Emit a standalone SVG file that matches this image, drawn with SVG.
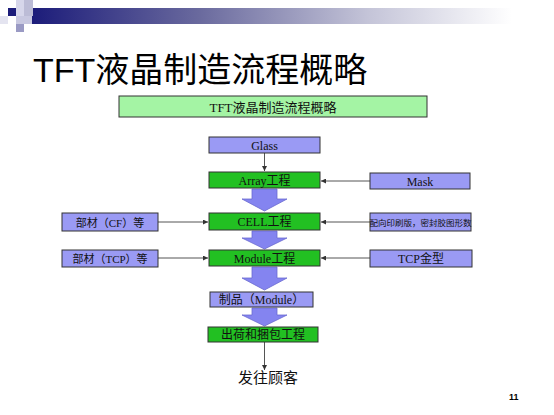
<svg xmlns="http://www.w3.org/2000/svg" width="554" height="415" viewBox="0 0 554 415">
<defs>
<linearGradient id="hdr" x1="0" y1="0" x2="1" y2="0">
<stop offset="0" stop-color="#1c1c7a"/>
<stop offset="0.35" stop-color="#6a6a9e"/>
<stop offset="0.7" stop-color="#c4c4d8"/>
<stop offset="1" stop-color="#ffffff"/>
</linearGradient>
<marker id="ah" viewBox="0 0 6 6" refX="6" refY="3" markerWidth="5" markerHeight="5" orient="auto">
<path d="M0,0 L6,3 L0,6 z" fill="#333"/>
</marker>
<style>
.lav{fill:#9a9af4;stroke:#333;stroke-width:1}
.grn{fill:#22c022;stroke:#333;stroke-width:1}
.ttl{fill:#a4f4a4;stroke:#333;stroke-width:1}
.t{font-family:"Liberation Serif","Noto Sans CJK SC",serif;font-size:12px;fill:#111;text-anchor:middle}
.c{stroke:#555;stroke-width:1;fill:none;marker-end:url(#ah)}
.blk{fill:#8484f0;stroke:#6a6ad0;stroke-width:0.8}
</style>
</defs>
<rect width="554" height="415" fill="#ffffff"/>
<g id="decor">
<rect x="32" y="8" width="480" height="16" fill="url(#hdr)"/>
<rect x="16" y="0" width="16" height="16" fill="#d6d6ea"/>
<rect x="24" y="0" width="9" height="16" fill="#bcbcd6"/>
<rect x="8" y="8" width="8" height="8" fill="#1c1c7a"/>
<rect x="0" y="16" width="8" height="8" fill="#e4e4f0"/>
<rect x="16" y="16" width="8" height="16" fill="#9a9ac4"/>
<rect x="16" y="16" width="16" height="8" fill="#c8c8e0"/>
</g>
<text x="33" y="82" font-family="Liberation Sans,'Noto Sans CJK SC',sans-serif" font-size="34" fill="#000">TFT液晶制造流程概略</text>
<g id="connectors">
<line class="c" x1="264.5" y1="153" x2="264.5" y2="171"/>
<line class="c" x1="370" y1="181" x2="321" y2="181"/>
<line class="c" x1="158" y1="222" x2="208" y2="222"/>
<line class="c" x1="370" y1="222" x2="321" y2="222"/>
<line class="c" x1="158" y1="258" x2="208" y2="258"/>
<line class="c" x1="370" y1="258" x2="321" y2="258"/>
<line class="c" x1="264.5" y1="342" x2="264.5" y2="370"/>
<path class="blk" d="M252,189 H277 V199 H287 L264.5,211 L242,199 H252 Z"/>
<path class="blk" d="M252,231 H277 V238 H287 L264.5,249 L242,238 H252 Z"/>
<path class="blk" d="M252,267 H277 V278 H287 L264.5,290 L242,278 H252 Z"/>
<path class="blk" d="M252,308 H277 V315 H287 L264.5,326 L242,315 H252 Z"/>
</g>
<g id="title-box"><rect class="ttl" x="119" y="96" width="308" height="21"/><text class="t" x="273" y="111.5" style="font-size:13px">TFT液晶制造流程概略</text></g>
<g id="glass"><rect class="lav" x="209" y="137" width="111" height="16"/><text class="t" x="264.5" y="149.5">Glass</text></g>
<g id="array"><rect class="grn" x="209" y="172" width="111" height="16"/><text class="t" x="264.5" y="184.5">Array工程</text></g>
<g id="mask"><rect class="lav" x="370" y="173" width="100" height="16"/><text class="t" x="420" y="185.5">Mask</text></g>
<g id="cf"><rect class="lav" x="62" y="213" width="96" height="18"/><text class="t" x="110" y="226.5" style="font-size:11px">部材（CF）等</text></g>
<g id="cell"><rect class="grn" x="209" y="213" width="111" height="17"/><text class="t" x="264.5" y="226">CELL工程</text></g>
<g id="pi"><rect class="lav" x="370" y="213" width="101" height="18"/><text class="t" x="420.5" y="225.5" style="font-size:8.5px">配向印刷版，密封胶图形数</text></g>
<g id="tcpparts"><rect class="lav" x="62" y="250" width="96" height="17"/><text class="t" x="110" y="262.5" style="font-size:11px">部材（TCP）等</text></g>
<g id="module"><rect class="grn" x="209" y="250" width="111" height="16"/><text class="t" x="264.5" y="262.5">Module工程</text></g>
<g id="tcpmold"><rect class="lav" x="370" y="250" width="102" height="17"/><text class="t" x="421" y="263">TCP金型</text></g>
<g id="product"><rect class="lav" x="210" y="292" width="103" height="15"/><text class="t" x="261.5" y="304">制品（Module）</text></g>
<g id="ship"><rect class="grn" x="208" y="327" width="110" height="15"/><text class="t" x="263" y="339">出荷和捆包工程</text></g>
<text class="t" x="268" y="383" style="font-size:15px">发往顾客</text>
<text x="509" y="400" font-family="Liberation Sans,sans-serif" font-size="9" font-weight="bold" fill="#000">11</text>
</svg>
